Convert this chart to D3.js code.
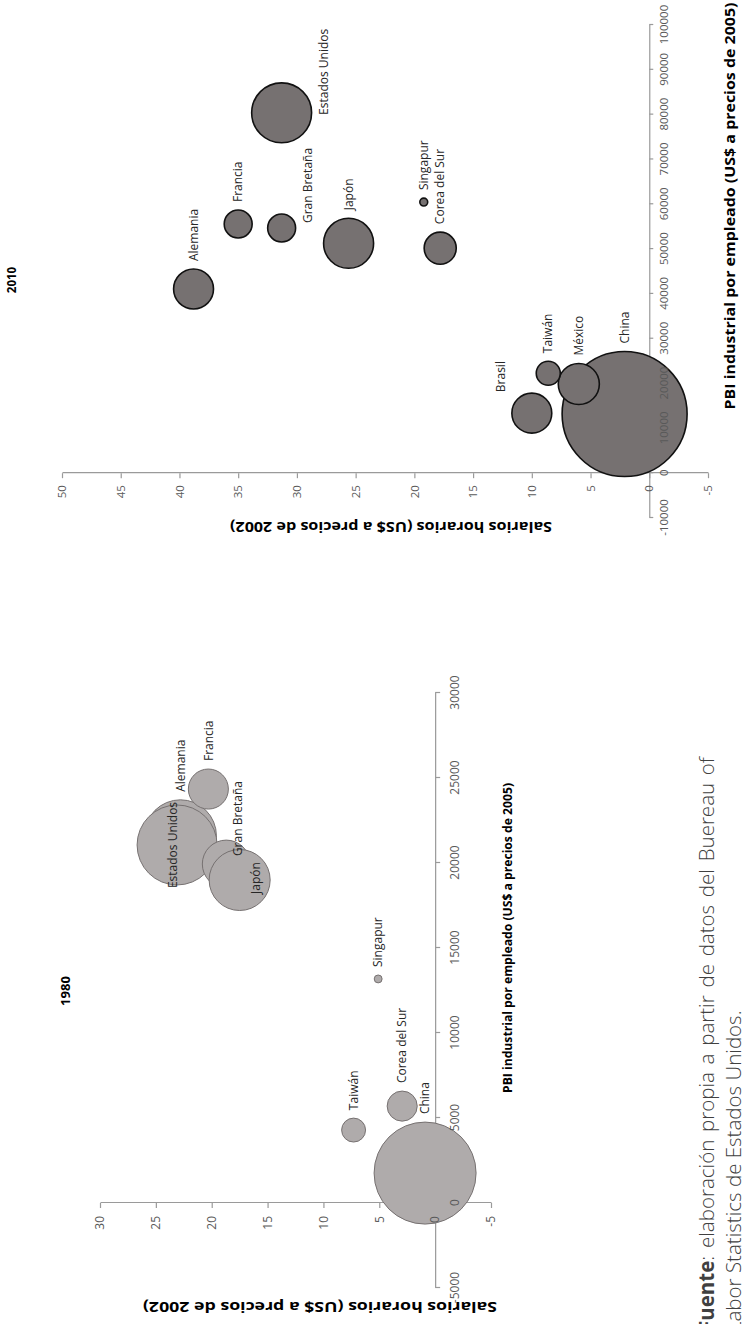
<!DOCTYPE html>
<html><head><meta charset="utf-8">
<script src="https://cdn.jsdelivr.net/npm/d3@7"></script>
<style>html,body{margin:0;padding:0;background:#fff;} svg{display:block;}</style>
</head><body>
<svg id="chart" width="749" height="1324"></svg>
<script>
// ---------- DATA ----------
const paises2010 = ["Alemania","Brasil","China","Corea del Sur","Estados Unidos","Francia","Gran Bretaña","Japón","México","Singapur","Taiwán"];
const pbi2010 = [41100, 13400, 13200, 50200, 80400, 55600, 54700, 51300, 19900, 60500, 22300];
const salario2010 = [38.8, 10.0, 2.1, 17.8, 31.3, 35.0, 31.3, 25.6, 6.0, 19.2, 8.6];
const tamano2010 = [10.2, 10.2, 100, 6.6, 23, 5.0, 5.0, 16, 10.8, 0.4, 3.7];

const paises1980 = ["Alemania","China","Corea del Sur","Estados Unidos","Francia","Gran Bretaña","Japón","Singapur","Taiwán"];
const pbi1980 = [21600, 1760, 5700, 21060, 24350, 19940, 19000, 13180, 4290];
const salario1980 = [22.8, 0.9, 2.95, 23.1, 20.3, 18.7, 17.5, 5.1, 7.3];
const tamano1980 = [49.8, 100, 8.7, 61.5, 15.4, 22, 35.8, 0.6, 5.5];

const ticksPbi2010 = [-10000, 0, 10000, 20000, 30000, 40000, 50000, 60000, 70000, 80000, 90000, 100000];
const ticksSal2010 = [-5, 0, 5, 10, 15, 20, 25, 30, 35, 40, 45, 50];
const ticksPbi1980 = [-5000, 0, 5000, 10000, 15000, 20000, 25000, 30000];
const ticksSal1980 = [-5, 0, 5, 10, 15, 20, 25, 30];

const tituloSal = "Salarios horarios (US$ a precios de 2002)";
const tituloPbi = "PBI industrial por empleado (US$ a precios de 2005)";

// ---------- DRAW ----------
const svg = d3.select("#chart");
// whole page is rotated 90° counter-clockwise
const page = svg.append("g").attr("transform", "translate(0,1324) rotate(-90)");
const fmt = d => String(d);

function drawChart(o) {
  const g = page.append("g");
  const x = d3.scaleLinear().domain(o.xDomain).range(o.xRange);
  const y = d3.scaleLinear().domain(o.yDomain).range(o.yRange);
  const r = d3.scaleSqrt().domain([0, d3.max(o.size)]).range([0, o.rMax]);
  const axY = y(0), axX = x(0);

  const styleLines = sel => {
    sel.selectAll("path,line").attr("stroke", "#9a9a9a").attr("stroke-width", 1.2);
  };
  g.append("g").attr("transform", `translate(0,${axY})`)
    .call(d3.axisBottom(x).tickValues(o.xTicks).tickSize(o.xTickSize).tickSizeOuter(0).tickFormat(""))
    .call(styleLines);
  g.append("g").attr("transform", `translate(${axX},0)`)
    .call(d3.axisLeft(y).tickValues(o.yTicks).tickSize(o.yTickSize).tickSizeOuter(0).tickFormat(""))
    .call(styleLines);

  const data = o.names.map((n, i) => ({name: n, pbi: o.pbi[i], sal: o.sal[i], size: o.size[i]}));
  g.append("g").selectAll("circle").data(data).join("circle")
    .attr("cx", d => x(d.pbi)).attr("cy", d => y(d.sal)).attr("r", d => r(d.size))
    .attr("fill", o.fill).attr("stroke", o.stroke).attr("stroke-width", o.sw);

  const onlyText = sel => {
    sel.select(".domain").remove();
    sel.selectAll("line").remove();
    sel.selectAll("text").attr("font-family", "'Open Sans', sans-serif")
      .attr("font-size", o.tickFont).attr("fill", "#595959");
  };
  g.append("g").attr("transform", `translate(0,${axY})`)
    .call(d3.axisBottom(x).tickValues(o.xTicks).tickSize(o.xTickSize).tickPadding(o.xPad).tickFormat(fmt))
    .call(onlyText);
  g.append("g").attr("transform", `translate(${axX},0)`)
    .call(d3.axisLeft(y).tickValues(o.yTicks).tickSize(o.yTickSize).tickPadding(o.yPad).tickFormat(fmt))
    .call(onlyText);

  const off = n => o.offsets[n] || {};
  g.append("g").selectAll("text").data(data).join("text")
    .attr("x", d => (off(d.name).pos === "center" ? x(d.pbi) : x(d.pbi) + r(d.size) + 8) + (off(d.name).dx || 0))
    .attr("y", d => y(d.sal) + (off(d.name).dy || 0))
    .attr("dy", "0.35em")
    .attr("text-anchor", d => off(d.name).pos === "center" ? "middle" : "start")
    .attr("font-family", "'Open Sans', sans-serif").attr("font-size", 12).attr("fill", "#262626")
    .text(d => d.name);

  // titles
  g.append("text").attr("transform", `translate(${o.salTitle.x},${o.salTitle.y}) rotate(-90)`)
    .attr("text-anchor", "middle").attr("dy", "0.35em")
    .attr("font-family", "'Open Sans', sans-serif").attr("font-weight", "bold")
    .attr("font-size", o.salTitle.fs).attr("textLength", o.salTitle.len).attr("lengthAdjust", "spacingAndGlyphs")
    .attr("fill", "#000").text(tituloSal);
  g.append("text").attr("x", o.pbiTitle.x).attr("y", o.pbiTitle.y)
    .attr("text-anchor", "middle").attr("dy", "0.35em")
    .attr("font-family", "'Open Sans', sans-serif").attr("font-weight", "bold")
    .attr("font-size", o.pbiTitle.fs).attr("textLength", o.pbiTitle.len).attr("lengthAdjust", "spacingAndGlyphs")
    .attr("fill", "#000").text(tituloPbi);
  g.append("text").attr("x", o.year.x).attr("y", o.year.y)
    .attr("text-anchor", "middle").attr("dy", "0.35em")
    .attr("font-family", "'Open Sans', sans-serif").attr("font-weight", "bold")
    .attr("font-size", o.year.fs).attr("fill", "#000").text(o.year.text);
}

drawChart({
  names: paises2010, pbi: pbi2010, sal: salario2010, size: tamano2010,
  xDomain: [-10000, 100000], xRange: [806, 1299],
  yDomain: [-5, 50], yRange: [708, 62],
  xTicks: ticksPbi2010, yTicks: ticksSal2010,
  xTickSize: 4, yTickSize: 5, xPad: 7, yPad: 7, tickFont: 11.5,
  rMax: 62.5, fill: "#767171", stroke: "#111", sw: 1.6,
  offsets: {
    "Gran Bretaña": {dx: -17, dy: 26},
    "Estados Unidos": {dx: -40, dy: 42},
    "Brasil": {dx: -7, dy: -31}
  },
  salTitle: {x: 797, y: 391, fs: 14, len: 322},
  pbiTitle: {x: 1118, y: 730, fs: 15, len: 407},
  year: {x: 1044, y: 12, fs: 11.5, text: "2010"}
});

drawChart({
  names: paises1980, pbi: pbi1980, sal: salario1980, size: tamano1980,
  xDomain: [-5000, 30000], xRange: [36, 631],
  yDomain: [-5, 30], yRange: [491, 100],
  xTicks: ticksPbi1980, yTicks: ticksSal1980,
  xTickSize: 5, yTickSize: 5, xPad: 10, yPad: 8, tickFont: 12,
  rMax: 51, fill: "#AFABAB", stroke: "#767171", sw: 1,
  offsets: {
    "Estados Unidos": {pos: "center", dx: 0, dy: -4},
    "Gran Bretaña": {dx: -24, dy: 12},
    "Japón": {pos: "center", dx: 2, dy: 16}
  },
  salTitle: {x: 17, y: 320, fs: 14, len: 354},
  pbiTitle: {x: 386, y: 508, fs: 12, len: 310},
  year: {x: 333, y: 65, fs: 13, text: "1980"}
});

// source note
const nota = page.append("g").attr("font-family", "'Open Sans', sans-serif").attr("font-size", 20.5)
  .attr("fill", "#404040").attr("font-weight", 300);
const l1 = nota.append("text").attr("x", -8).attr("y", 714);
l1.append("tspan").attr("font-weight", "bold").text("Fuente");
l1.append("tspan").text(": elaboración propia a partir de datos del Buereau of");
const nat = l1.node().getComputedTextLength();
l1.style("word-spacing", Math.max(0, (575 - nat) / 9) + "px");
nota.append("text").attr("x", -8).attr("y", 741).text("Labor Statistics de Estados Unidos.");
</script>
</body></html>
